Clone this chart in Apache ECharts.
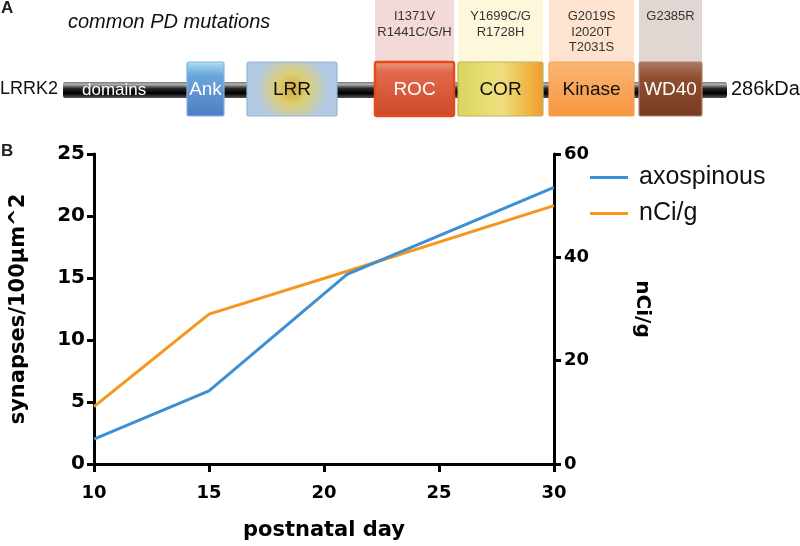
<!DOCTYPE html>
<html>
<head>
<meta charset="utf-8">
<script src="https://cdn.jsdelivr.net/npm/echarts@6/dist/echarts.min.js"></script>
<style>
  html, body { margin: 0; padding: 0; background: #fff; }
  #chart { width: 800px; height: 546px; }
</style>
</head>
<body>
<div id="chart"></div>
<script>
// panel A: LRRK2 domain diagram (diagram units along the protein bar)
var proteinSpan = [63, 727]
var domainNames = ['Ank', 'LRR', 'ROC', 'COR', 'Kinase', 'WD40']
var domainFrom = [187, 247, 375, 458, 549, 639]
var domainTo = [224, 337, 454, 543, 634, 702]
var domainMutations = [
  [],
  [],
  ['I1371V', 'R1441C/G/H'],
  ['Y1699C/G', 'R1728H'],
  ['G2019S', 'I2020T', 'T2031S'],
  ['G2385R']
]

// panel B: postnatal development
var axoDays = [10, 15, 21, 30]
var axoValues = [2.0, 5.9, 15.3, 22.3]
var nciDays = [10, 15, 21, 30]
var nciValues = [11.1, 29.0, 37.3, 50.0]

var FONT = 'Liberation Sans'
var BOLD = 'DejaVu Sans'

var G = echarts.graphic
var domainStyle = [
  { fill: new G.LinearGradient(0, 0, 0, 1, [{ offset: 0, color: '#aee2f2' }, { offset: 0.25, color: '#6aa6dc' }, { offset: 1, color: '#4d7ec4' }]), stroke: '#86b0e0', text: '#fff' },
  { fill: new G.RadialGradient(0.5, 0.5, 0.65, [{ offset: 0, color: '#d6a838' }, { offset: 0.45, color: '#dccf78' }, { offset: 1, color: '#b2c9e4' }]), stroke: '#9ab4d8', text: '#111' },
  { fill: new G.LinearGradient(0, 0, 0, 1, [{ offset: 0, color: '#ee9c88' }, { offset: 0.2, color: '#e0694a' }, { offset: 1, color: '#cc4a2a' }]), stroke: '#e8491b', text: '#fff', bg: '#f4d9d9' },
  { fill: new G.LinearGradient(0, 0, 1, 0, [{ offset: 0, color: '#d9d75c' }, { offset: 0.5, color: '#eee080' }, { offset: 0.85, color: '#f0b242' }, { offset: 1, color: '#ee9a30' }]), stroke: '#c2b15a', text: '#111', bg: '#fdf8dc' },
  { fill: new G.LinearGradient(0, 0, 0, 1, [{ offset: 0, color: '#fbb676' }, { offset: 1, color: '#f7953e' }]), stroke: '#f6a050', text: '#111', bg: '#fee4d0' },
  { fill: new G.LinearGradient(0, 0, 0, 1, [{ offset: 0, color: '#b07a66' }, { offset: 0.3, color: '#8e4e30' }, { offset: 1, color: '#7a3a20' }]), stroke: '#b08070', text: '#fff', bg: '#e0d6d2' }
]

function renderBackbone (params, api) {
  var a = api.coord([api.value(0), 82])
  var b = api.coord([api.value(1), 98])
  return {
    type: 'group',
    children: [
      {
        type: 'rect',
        shape: { x: a[0], y: a[1], width: b[0] - a[0], height: b[1] - a[1], r: 2 },
        style: {
          fill: new G.LinearGradient(0, 0, 0, 1, [
            { offset: 0, color: '#7a7a7a' }, { offset: 0.15, color: '#b0b0b0' },
            { offset: 0.4, color: '#2a2a2a' }, { offset: 0.7, color: '#000' }, { offset: 1, color: '#555' }
          ])
        }
      },
      {
        type: 'text',
        style: { x: a[0] + 19, y: (a[1] + b[1]) / 2, text: 'domains', fill: '#fff', font: '17px ' + FONT, verticalAlign: 'middle' }
      }
    ]
  }
}

function renderDomain (params, api) {
  var i = api.value(2)
  var st = domainStyle[i]
  var top = api.coord([api.value(0), 62])
  var bot = api.coord([api.value(1), 116])
  var x0 = top[0]
  var x1 = bot[0]
  var children = []
  var muts = domainMutations[i]
  if (muts.length) {
    var bgTop = api.coord([0, 0])[1]
    children.push({
      type: 'rect',
      shape: { x: x0, y: bgTop, width: x1 - x0, height: top[1] - bgTop },
      style: { fill: st.bg }
    })
    children.push({
      type: 'text',
      style: {
        x: (x0 + x1) / 2, y: api.coord([0, 9])[1], text: muts.join('\n'),
        fill: '#333', font: '13px ' + FONT, align: 'center', verticalAlign: 'top', lineHeight: 15.5
      }
    })
  }
  children.push({
    type: 'rect',
    shape: { x: x0, y: top[1], width: x1 - x0, height: bot[1] - top[1], r: 2 },
    style: { fill: st.fill, stroke: st.stroke, lineWidth: i === 2 ? 2.5 : 1.2 }
  })
  children.push({
    type: 'text',
    style: {
      x: (x0 + x1) / 2, y: (top[1] + bot[1]) / 2 + 1, text: domainNames[i],
      fill: st.text, font: '19px ' + FONT, align: 'center', verticalAlign: 'middle'
    }
  })
  return { type: 'group', children: children }
}

var myChart = echarts.init(document.getElementById('chart'))

var axisLabelStyle = { color: '#000', fontFamily: BOLD, fontWeight: 'bold' }
var option = {
  animation: false,
  backgroundColor: '#fff',
  grid: [
    { left: 89, right: 246, top: 154, bottom: 81 },
    { left: 0, right: 0, top: 0, height: 130 }
  ],
  xAxis: [
    {
      type: 'value', gridIndex: 0, min: 10, max: 30, interval: 5,
      name: 'postnatal day', nameLocation: 'middle', nameGap: 56,
      nameTextStyle: { color: '#000', fontFamily: BOLD, fontWeight: 'bold', fontSize: 21 },
      axisLine: { lineStyle: { color: '#000', width: 3 } },
      axisTick: { length: 8, lineStyle: { width: 3, color: '#000' } },
      axisLabel: Object.assign({ fontSize: 18, margin: 20 }, axisLabelStyle),
      splitLine: { show: false }
    },
    { type: 'value', gridIndex: 1, min: 0, max: 800, show: false }
  ],
  yAxis: [
    {
      type: 'value', gridIndex: 0, min: 0, max: 25, interval: 5,
      name: 'synapses/100µm^2', nameLocation: 'middle', nameGap: 65,
      nameTextStyle: { color: '#000', fontFamily: BOLD, fontWeight: 'bold', fontSize: 21 },
      axisLine: { show: true, lineStyle: { color: '#000', width: 3 } },
      axisTick: { show: true, length: 7, lineStyle: { width: 3, color: '#000' } },
      axisLabel: Object.assign({ fontSize: 20, margin: 9 }, axisLabelStyle),
      splitLine: { show: false }
    },
    {
      type: 'value', gridIndex: 0, position: 'right', min: 0, max: 60, interval: 20,
      name: 'nCi/g', nameLocation: 'middle', nameGap: 78, nameRotate: -90,
      nameTextStyle: { color: '#000', fontFamily: BOLD, fontWeight: 'bold', fontSize: 20 },
      axisLine: { show: true, lineStyle: { color: '#000', width: 3 } },
      axisTick: { show: true, length: 7, lineStyle: { width: 3, color: '#000' } },
      axisLabel: Object.assign({ fontSize: 18, margin: 10 }, axisLabelStyle),
      splitLine: { show: false }
    },
    { type: 'value', gridIndex: 1, min: 0, max: 130, inverse: true, show: false }
  ],
  legend: {
    orient: 'vertical', left: 585, top: 160,
    icon: 'rect', itemWidth: 38, itemHeight: 3, itemGap: 11,
    data: ['axospinous', 'nCi/g'],
    textStyle: { color: '#111', fontFamily: FONT, fontSize: 25, lineHeight: 25, padding: [0, 0, 0, 6] }
  },
  graphic: [
    { type: 'text', left: 1, top: 0, style: { text: 'A', font: 'bold 17px ' + FONT, fill: '#222' } },
    { type: 'text', left: 1, top: 143, style: { text: 'B', font: 'bold 17px ' + FONT, fill: '#222' } },
    { type: 'text', left: 68, top: 12, style: { text: 'common PD mutations', font: 'italic 20px ' + FONT, fill: '#111' } },
    { type: 'text', left: 0, top: 80, style: { text: 'LRRK2', font: '18px ' + FONT, fill: '#111' } },
    { type: 'text', left: 731, top: 79, style: { text: '286kDa', font: '20px ' + FONT, fill: '#111' } }
  ],
  series: [
    {
      name: 'axospinous', type: 'line', xAxisIndex: 0, yAxisIndex: 0,
      data: axoDays.map(function (d, i) { return [d, axoValues[i]] }),
      showSymbol: false, symbol: 'none', color: '#3b8fd2',
      lineStyle: { width: 3, color: '#3b8fd2' }, z: 3
    },
    {
      name: 'nCi/g', type: 'line', xAxisIndex: 0, yAxisIndex: 1,
      data: nciDays.map(function (d, i) { return [d, nciValues[i]] }),
      showSymbol: false, symbol: 'none', color: '#f5961e',
      lineStyle: { width: 3, color: '#f5961e' }, z: 2
    },
    {
      type: 'custom', xAxisIndex: 1, yAxisIndex: 2, z: 1,
      renderItem: renderBackbone,
      data: [[proteinSpan[0], proteinSpan[1]]],
      encode: { x: [0, 1] }, silent: true
    },
    {
      type: 'custom', xAxisIndex: 1, yAxisIndex: 2, z: 2,
      renderItem: renderDomain,
      data: domainFrom.map(function (f, i) { return [f, domainTo[i], i] }),
      encode: { x: [0, 1] }, silent: true
    }
  ]
}
myChart.setOption(option, true)
</script>
</body>
</html>
